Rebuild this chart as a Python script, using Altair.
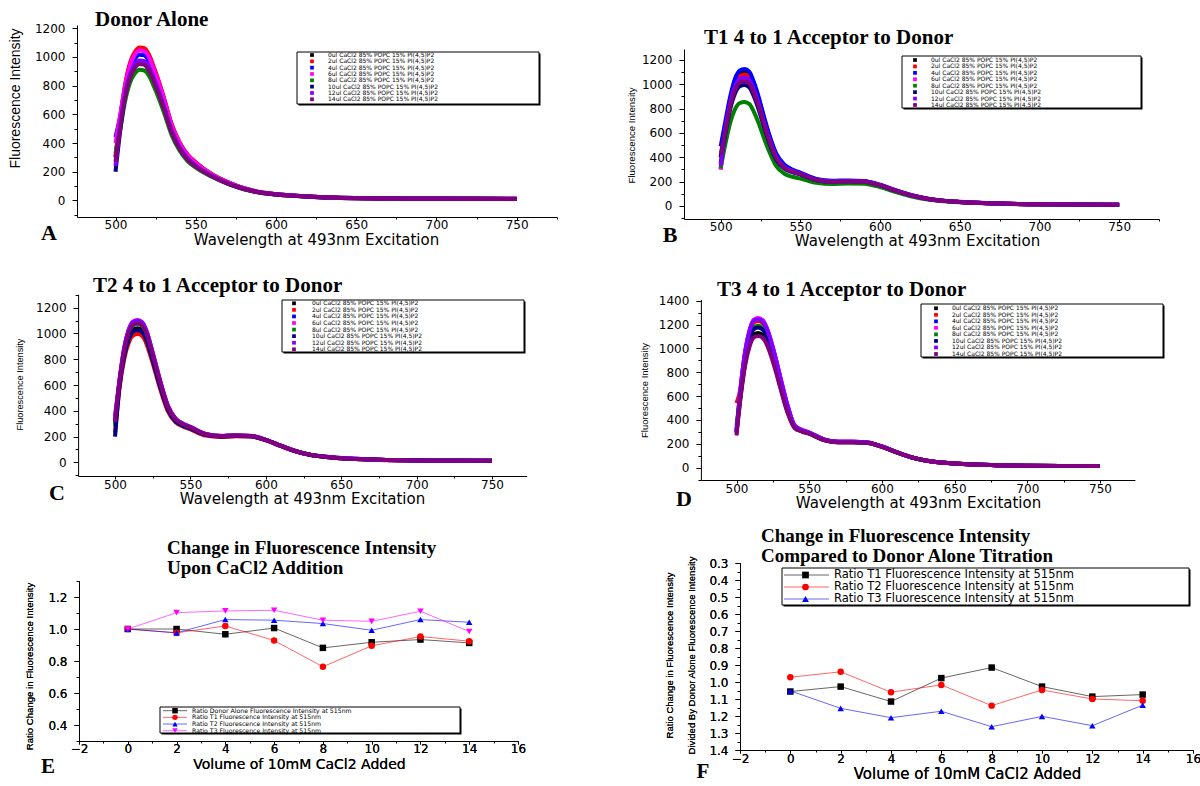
import altair as alt
import pandas as pd

W, H = 1200, 786
SANS = "DejaVu Sans"
NARROW = "Liberation Sans"
SERIF = "Liberation Serif"

# ---------------- data ----------------
WAVELENGTH = [500, 503, 506, 509, 512, 515, 518, 521, 524, 527, 530, 535, 540, 545,
              550, 560, 570, 580, 590, 600, 610, 620, 630, 640, 650, 675, 700, 750]

CACL2_LABELS = [
    "0ul CaCl2 85% POPC 15% PI(4,5)P2",
    "2ul CaCl2 85% POPC 15% PI(4,5)P2",
    "4ul CaCl2 85% POPC 15% PI(4,5)P2",
    "6ul CaCl2 85% POPC 15% PI(4,5)P2",
    "8ul CaCl2 85% POPC 15% PI(4,5)P2",
    "10ul CaCl2 85% POPC 15% PI(4,5)P2",
    "12ul CaCl2 85% POPC 15% PI(4,5)P2",
    "14ul CaCl2 85% POPC 15% PI(4,5)P2",
]
CACL2_COLORS = ["#000000", "#FF0000", "#0000FF", "#FF00FF",
                "#008000", "#000080", "#8000FF", "#800080"]

# Panel A: donor alone
DONOR_0 = [300, 578, 798, 945, 1019, 1050, 1045, 998, 914, 819, 714, 525, 399, 315, 263, 182, 126, 85, 58, 44, 35, 28, 22, 19, 17, 14, 13, 12]
DONOR_2 = [310, 586, 809, 959, 1033, 1065, 1060, 1012, 927, 831, 724, 533, 405, 320, 266, 184, 128, 86, 59, 45, 35, 28, 22, 19, 17, 14, 13, 12]
DONOR_4 = [440, 590, 771, 914, 985, 1015, 1010, 964, 883, 792, 690, 508, 386, 305, 254, 178, 123, 83, 57, 43, 34, 27, 22, 19, 17, 14, 13, 12]
DONOR_6 = [400, 600, 794, 941, 1014, 1045, 1040, 993, 909, 815, 711, 523, 397, 314, 261, 182, 126, 85, 58, 44, 35, 28, 22, 19, 17, 14, 13, 12]
DONOR_8 = [330, 500, 692, 819, 883, 910, 905, 865, 792, 710, 619, 455, 346, 273, 228, 165, 115, 78, 54, 41, 33, 26, 21, 18, 16, 13, 12, 11]
DONOR_10 = [200, 490, 730, 864, 931, 960, 955, 912, 835, 749, 653, 480, 365, 288, 240, 170, 118, 80, 55, 42, 33, 27, 21, 18, 16, 13, 12, 11]
DONOR_12 = [240, 530, 741, 878, 946, 975, 970, 926, 848, 761, 663, 488, 371, 293, 244, 172, 120, 81, 56, 43, 34, 27, 21, 18, 16, 13, 12, 11]
DONOR_14 = [270, 520, 722, 855, 922, 950, 945, 903, 827, 741, 646, 475, 361, 285, 238, 169, 117, 80, 55, 42, 33, 27, 21, 18, 16, 13, 12, 11]

# Panel B: T1
T1_0 = [400, 660, 880, 1023, 1089, 1100, 1078, 990, 869, 726, 594, 418, 330, 292, 268, 218, 203, 206, 202, 172, 127, 86, 59, 43, 33, 20, 14, 10]
T1_2 = [300, 648, 864, 1004, 1069, 1080, 1058, 972, 853, 713, 583, 410, 326, 290, 266, 216, 201, 205, 201, 171, 126, 86, 58, 42, 33, 20, 14, 10]
T1_4 = [490, 700, 900, 1046, 1114, 1125, 1103, 1013, 889, 743, 608, 428, 340, 300, 274, 222, 207, 210, 206, 175, 129, 88, 60, 43, 34, 20, 14, 10]
T1_6 = [300, 618, 824, 958, 1020, 1030, 1009, 927, 814, 680, 556, 391, 315, 283, 262, 214, 200, 204, 200, 170, 125, 85, 58, 42, 33, 20, 14, 10]
T1_8 = [310, 513, 684, 795, 846, 855, 838, 770, 675, 564, 462, 325, 265, 240, 225, 190, 180, 185, 183, 155, 115, 78, 53, 39, 30, 18, 13, 9]
T1_10 = [350, 597, 796, 925, 985, 995, 975, 896, 786, 657, 537, 378, 307, 278, 258, 212, 199, 203, 199, 169, 124, 85, 58, 42, 33, 20, 14, 10]
T1_12 = [330, 633, 844, 981, 1044, 1055, 1034, 950, 833, 696, 570, 401, 320, 288, 265, 216, 202, 206, 202, 172, 126, 86, 58, 42, 33, 20, 14, 10]
T1_14 = [420, 615, 820, 953, 1015, 1025, 1005, 923, 810, 677, 554, 390, 313, 283, 262, 214, 200, 204, 200, 170, 125, 85, 58, 42, 33, 20, 14, 10]

# Panel C: T2
T2_0 = [300, 603, 832, 967, 1030, 1040, 1024, 957, 842, 718, 593, 416, 325, 288, 265, 215, 202, 206, 203, 173, 127, 85, 57, 42, 32, 20, 15, 12]
T2_2 = [230, 577, 796, 925, 985, 995, 980, 915, 806, 687, 567, 398, 312, 278, 256, 208, 197, 202, 200, 170, 125, 84, 56, 41, 31, 19, 14, 11]
T2_4 = [330, 638, 880, 1023, 1089, 1100, 1084, 1012, 891, 759, 627, 440, 340, 300, 274, 220, 205, 209, 205, 175, 129, 86, 58, 43, 33, 20, 15, 12]
T2_6 = [340, 641, 884, 1028, 1094, 1105, 1088, 1017, 895, 762, 630, 442, 342, 301, 275, 221, 206, 209, 206, 175, 129, 86, 58, 43, 33, 20, 15, 12]
T2_8 = [280, 624, 860, 1000, 1064, 1075, 1059, 989, 871, 742, 613, 430, 335, 295, 270, 218, 204, 208, 204, 174, 128, 86, 57, 42, 32, 20, 15, 12]
T2_10 = [200, 595, 820, 953, 1015, 1025, 1010, 943, 830, 707, 584, 410, 320, 284, 262, 213, 200, 205, 202, 172, 127, 85, 57, 42, 32, 20, 15, 12]
T2_12 = [360, 638, 880, 1023, 1089, 1100, 1084, 1012, 891, 759, 627, 440, 340, 300, 274, 220, 205, 209, 205, 175, 129, 86, 58, 43, 33, 20, 15, 12]
T2_14 = [310, 626, 864, 1004, 1069, 1080, 1064, 994, 875, 745, 616, 432, 336, 296, 271, 219, 204, 208, 204, 174, 128, 86, 58, 42, 32, 20, 15, 12]

# Panel D: T3
T3_0 = [320, 622, 881, 1040, 1119, 1130, 1113, 1051, 949, 825, 689, 475, 335, 305, 285, 232, 213, 213, 208, 175, 129, 88, 60, 44, 36, 22, 17, 14]
T3_2 = [540, 677, 959, 1132, 1218, 1230, 1212, 1144, 1033, 898, 750, 517, 350, 315, 293, 237, 217, 217, 212, 178, 131, 89, 61, 45, 36, 22, 17, 14]
T3_4 = [300, 688, 975, 1150, 1238, 1250, 1231, 1163, 1050, 913, 763, 525, 352, 316, 294, 238, 218, 218, 212, 178, 131, 89, 61, 45, 36, 22, 17, 14]
T3_6 = [310, 690, 979, 1155, 1242, 1255, 1236, 1167, 1054, 916, 766, 527, 353, 317, 295, 238, 218, 218, 212, 178, 131, 89, 61, 45, 36, 22, 17, 14]
T3_8 = [350, 655, 928, 1095, 1178, 1190, 1172, 1107, 1000, 869, 726, 500, 343, 310, 290, 235, 215, 215, 210, 176, 130, 88, 60, 44, 36, 22, 17, 14]
T3_10 = [290, 646, 917, 1081, 1163, 1175, 1157, 1093, 987, 858, 717, 494, 341, 308, 289, 234, 215, 215, 210, 176, 130, 88, 60, 44, 36, 22, 17, 14]
T3_12 = [300, 685, 971, 1145, 1233, 1245, 1226, 1158, 1046, 909, 759, 523, 352, 316, 294, 238, 218, 218, 212, 178, 131, 89, 61, 45, 36, 22, 17, 14]
T3_14 = [270, 608, 862, 1017, 1094, 1105, 1088, 1028, 928, 807, 674, 464, 333, 303, 284, 231, 212, 212, 207, 175, 129, 88, 60, 44, 36, 22, 17, 14]

# Panel E: ratio change upon CaCl2 addition
VOLUME = [0, 2, 4, 6, 8, 10, 12, 14]
E_LABELS = [
    "Ratio Donor Alone Fluorescence Intensity at 515nm",
    "Ratio  T1 Fluorescence Intensity at 515nm",
    "Ratio  T2 Fluorescence Intensity at 515nm",
    "Ratio  T3 Fluorescence Intensity at 515nm",
]
E_COLORS = ["#000000", "#FF0000", "#0000FF", "#FF00FF"]
E_SHAPES = ["square", "circle", "triangle-up", "triangle-down"]
E_DONOR = [1.000, 1.000, 0.967, 1.006, 0.882, 0.917, 0.934, 0.913]
E_T1 = [1.000, 0.976, 1.019, 0.928, 0.764, 0.895, 0.953, 0.924]
E_T2 = [1.000, 0.976, 1.059, 1.055, 1.034, 0.992, 1.059, 1.042]
E_T3 = [1.000, 1.102, 1.113, 1.117, 1.055, 1.048, 1.111, 0.984]

# Panel F: compared to donor alone
F_LABELS = [
    "Ratio T1 Fluorescence Intensity at 515nm",
    "Ratio T2 Fluorescence Intensity at 515nm",
    "Ratio T3 Fluorescence Intensity at 515nm",
]
F_COLORS = ["#000000", "#FF0000", "#0000FF"]
F_SHAPES = ["square", "circle", "triangle-up"]
F_T1 = [1.056, 1.027, 1.115, 0.977, 0.915, 1.027, 1.086, 1.074]
F_T2 = [0.972, 0.940, 1.060, 1.017, 1.139, 1.047, 1.100, 1.110]
F_T3 = [1.052, 1.155, 1.210, 1.172, 1.263, 1.202, 1.257, 1.136]

WL_TICKS = [500, 550, 600, 650, 700, 750]
WL_MINOR = [525, 575, 625, 675, 725, 775]
INT_TICKS = [0, 200, 400, 600, 800, 1000, 1200]
INT_MINOR = [-100, 100, 300, 500, 700, 900, 1100]
INT_TICKS_D = [0, 200, 400, 600, 800, 1000, 1200, 1400]
INT_MINOR_D = [-100, 100, 300, 500, 700, 900, 1100, 1300]
VOL_TICKS = [-2, 0, 2, 4, 6, 8, 10, 12, 14, 16]
VOL_MINOR = [-1, 1, 3, 5, 7, 9, 11, 13, 15]
E_TICKS = [0.4, 0.6, 0.8, 1.0, 1.2]
E_MINOR = [0.3, 0.5, 0.7, 0.9, 1.1, 1.3]
F_TICKS = [0.3, 0.4, 0.5, 0.6, 0.7, 0.8, 0.9, 1.0, 1.1, 1.2, 1.3, 1.4]
F_MINOR = [0.35, 0.45, 0.55, 0.65, 0.75, 0.85, 0.95, 1.05, 1.15, 1.25, 1.35]

WL_TITLE = "Wavelength at 493nm Excitation"
INT_TITLE = "Fluorescence Intensity"
VOL_TITLE = "Volume of 10mM CaCl2 Added"
E_YTITLE = "Ratio Change in Fluorescence Intensity"
F_YTITLE = ["Ratio Change in Fluorescence Intensity",
            "Divided By Donor Alone Fluorescence Intensity"]


# ---------------- helpers ----------------
def long_frame(xs, series, labels, xname, yname):
    rows = []
    for label, values in zip(labels, series):
        assert len(values) == len(xs)
        for xv, yv in zip(xs, values):
            rows.append({xname: xv, yname: yv, "series": label})
    return pd.DataFrame(rows)


AXIS_COMMON = dict(labelFont=SANS, labelFontSize=12, labelColor="black",
                   tickColor="black", domainColor="black", grid=False,
                   labelFlush=False, labelOverlap=False, titleColor="black",
                   titleFontWeight="normal")


def x_axis(bottom, values, title, title_x, title_y, title_size=15, label_pad=5):
    return alt.Axis(**dict(AXIS_COMMON, orient="bottom", offset=bottom - H, values=values,
                           title=title, titleX=title_x, titleY=title_y - bottom,
                           titleFont=SANS, titleFontSize=title_size,
                           titleBaseline="middle", titleAlign="center",
                           labelBaseline="middle", labelPadding=label_pad, tickSize=3))


def x_minor(bottom, values):
    return alt.Axis(orient="bottom", offset=bottom - H, values=values, title=None,
                    labels=False, domain=False, tickSize=2, tickColor="black", grid=False)


def y_axis(left, values, title, title_x, title_y, title_size, fmt, line_height=None):
    kw = dict(AXIS_COMMON, orient="left", offset=-left, values=values, title=title,
              titleX=title_x - left, titleY=title_y, titleAngle=270,
              titleFont=NARROW, titleFontSize=title_size,
              titleBaseline="middle", titleAlign="center",
              labelPadding=7, tickSize=5, format=fmt)
    if line_height:
        kw["titleLineHeight"] = line_height
    return alt.Axis(**kw)


def y_minor(left, values):
    return alt.Axis(orient="left", offset=-left, values=values, title=None,
                    labels=False, domain=False, tickSize=3, tickColor="black", grid=False)


def spectra_panel(series, xdom, xrng, ydom, yrng, yticks, yminor, xt, yt, yt_size, label_pad=5):
    df = long_frame(WAVELENGTH, series, CACL2_LABELS, "wl", "intensity")
    xs = alt.Scale(domain=xdom, range=xrng, nice=False, zero=False)
    ys = alt.Scale(domain=ydom, range=yrng, nice=False, zero=False)
    lines = alt.Chart(df).mark_line(strokeWidth=4, interpolate="monotone").encode(
        x=alt.X("wl:Q", scale=xs,
                axis=x_axis(yrng[0], WL_TICKS, WL_TITLE, xt[0], xt[1], label_pad=label_pad)),
        y=alt.Y("intensity:Q", scale=ys,
                axis=y_axis(xrng[0], yticks, INT_TITLE, yt[0], yt[1], yt_size, "d")),
        color=alt.Color("series:N", scale=alt.Scale(domain=CACL2_LABELS, range=CACL2_COLORS),
                        legend=None),
    )
    minor = alt.Chart(df).mark_point(opacity=0).encode(
        x=alt.X("wl:Q", scale=xs, axis=x_minor(yrng[0], WL_MINOR)),
        y=alt.Y("intensity:Q", scale=ys, axis=y_minor(xrng[0], yminor)),
    )
    return alt.layer(lines, minor).resolve_axis(x="independent", y="independent")


def legend_frame(box):
    x0, x1, y0, y1 = box
    one = pd.DataFrame({"box": [0]})
    shadow = alt.Chart(one).mark_rect(color="black").encode(
        x=alt.value(x0 + 1.5), x2=alt.value(x1 + 1.5),
        y=alt.value(y0 + 1.5), y2=alt.value(y1 + 1.5))
    face = alt.Chart(one).mark_rect(fill="white", stroke="black", strokeWidth=1).encode(
        x=alt.value(x0), x2=alt.value(x1), y=alt.value(y0), y2=alt.value(y1))
    return [shadow, face]


def cacl2_legend(box, rows, sym_x, text_x):
    df = pd.DataFrame({"series": CACL2_LABELS})
    y = alt.Y("series:N", scale=alt.Scale(type="point", domain=CACL2_LABELS,
                                          range=list(rows), padding=0), axis=None)
    color = alt.Color("series:N", scale=alt.Scale(domain=CACL2_LABELS, range=CACL2_COLORS),
                      legend=None)
    symbols = alt.Chart(df).mark_square(size=14, opacity=1).encode(
        x=alt.value(sym_x), y=y, color=color)
    texts = alt.Chart(df).mark_text(align="left", baseline="middle", font=SANS,
                                    fontSize=6.0, color="black").encode(
        x=alt.value(text_x), y=y, text="series:N")
    return alt.layer(*legend_frame(box), symbols, texts)


def ratio_panel(series, labels, colors, shapes, xrng, ydom, yrng, yticks, yminor,
                xt, yt, yt_size, line_height=None, xt_size=15, label_pad=5):
    df = long_frame(VOLUME, series, labels, "volume", "ratio")
    bottom = max(yrng)
    xs = alt.Scale(domain=[-2, 16], range=xrng, nice=False, zero=False)
    ys = alt.Scale(domain=ydom, range=yrng, nice=False, zero=False)
    base = alt.Chart(df).encode(
        x=alt.X("volume:Q", scale=xs,
                axis=x_axis(bottom, VOL_TICKS, VOL_TITLE, xt[0], xt[1], xt_size, label_pad)),
        y=alt.Y("ratio:Q", scale=ys,
                axis=y_axis(xrng[0], yticks, yt[0], yt[1], yt[2], yt_size, ".1f",
                            line_height=line_height)),
        color=alt.Color("series:N", scale=alt.Scale(domain=labels, range=colors), legend=None),
    )
    lines = base.mark_line(strokeWidth=1, opacity=0.6)
    points = base.mark_point(filled=True, size=42, opacity=1).encode(
        shape=alt.Shape("series:N", scale=alt.Scale(domain=labels, range=shapes), legend=None))
    minor = alt.Chart(df).mark_point(opacity=0).encode(
        x=alt.X("volume:Q", scale=xs, axis=x_minor(bottom, VOL_MINOR)),
        y=alt.Y("ratio:Q", scale=ys, axis=y_minor(xrng[0], yminor)),
    )
    return alt.layer(lines, points, minor).resolve_axis(x="independent", y="independent")


def ratio_legend(labels, colors, shapes, box, rows, line_x, mark_x, text_x, font_size, msize):
    df = pd.DataFrame({"series": labels})
    y = alt.Y("series:N", scale=alt.Scale(type="point", domain=labels, range=list(rows),
                                          padding=0), axis=None)
    color = alt.Color("series:N", scale=alt.Scale(domain=labels, range=colors), legend=None)
    shape = alt.Shape("series:N", scale=alt.Scale(domain=labels, range=shapes), legend=None)
    rules = alt.Chart(df).mark_rule(strokeWidth=1, opacity=0.6).encode(
        x=alt.value(line_x[0]), x2=alt.value(line_x[1]), y=y, color=color)
    marks = alt.Chart(df).mark_point(filled=True, size=msize, opacity=1).encode(
        x=alt.value(mark_x), y=y, color=color, shape=shape)
    texts = alt.Chart(df).mark_text(align="left", baseline="middle", font=SANS,
                                    fontSize=font_size, color="black").encode(
        x=alt.value(text_x), y=y, text="series:N")
    return alt.layer(*legend_frame(box), rules, marks, texts)


def label_text(text, x, y, size, font=SERIF, weight="bold", align="left"):
    return alt.Chart(pd.DataFrame({"t": [text]})).mark_text(
        align=align, baseline="middle", font=font, fontSize=size,
        fontWeight=weight, color="black").encode(
        x=alt.value(x), y=alt.value(y), text="t:N")


# ---------------- panels ----------------
panel_a = spectra_panel([DONOR_0, DONOR_2, DONOR_4, DONOR_6, DONOR_8, DONOR_10, DONOR_12, DONOR_14],
                        [476, 775], [77, 556.8], [-115, 1222], [217, 25], INT_TICKS, INT_MINOR,
                        (316, 239.5), (15, 98), 14, label_pad=4)
panel_b = spectra_panel([T1_0, T1_2, T1_4, T1_6, T1_8, T1_10, T1_12, T1_14],
                        [477, 775], [684, 1159], [-107, 1290], [219, 49], INT_TICKS, INT_MINOR,
                        (917, 240.5), (631, 135), 9.6, label_pad=4)
panel_c = spectra_panel([T2_0, T2_2, T2_4, T2_6, T2_8, T2_10, T2_12, T2_14],
                        [475.5, 773], [78.1, 526.7], [-106, 1304], [476, 294.3], INT_TICKS,
                        INT_MINOR + [1300], (302, 498), (19, 384), 9.2)
panel_d = spectra_panel([T3_0, T3_2, T3_4, T3_6, T3_8, T3_10, T3_12, T3_14],
                        [475.5, 774], [700.9, 1134.9], [-103, 1410], [480, 299.5], INT_TICKS_D,
                        INT_MINOR_D, (918, 502), (644, 390), 9.5)

legend_a = cacl2_legend((297, 539, 52, 104), (55, 99.3), 312, 328)
legend_b = cacl2_legend((902, 1141, 56, 108), (60, 105), 915, 931)
legend_c = cacl2_legend((282, 524, 300, 352), (303.3, 349.3), 294, 312)
legend_d = cacl2_legend((921, 1163, 304, 357), (308.3, 354), 936, 952)

panel_e = ratio_panel([E_DONOR, E_T1, E_T2, E_T3], E_LABELS, E_COLORS, E_SHAPES,
                      [79, 518], [0.3, 1.3], [741, 581], E_TICKS, E_MINOR,
                      (299, 764), (E_YTITLE, 29, 666), 9.6, xt_size=14, label_pad=4)
panel_f = ratio_panel([F_T1, F_T2, F_T3], F_LABELS, F_COLORS, F_SHAPES,
                      [740, 1193], [0.3, 1.4], [563, 750], F_TICKS, F_MINOR,
                      (967, 773), (F_YTITLE, 669, 655), 9.5, line_height=22)

legend_e = ratio_legend(E_LABELS, E_COLORS, E_SHAPES, (160, 460, 707, 733),
                        (710.7, 730.7), (163, 187), 175, 192, 6.2, 30)
legend_f = ratio_legend(F_LABELS, F_COLORS, F_SHAPES, (782, 1189, 568, 605),
                        (575, 599), (784, 829), 805.5, 834, 11.5, 45)

texts = [
    label_text("Donor Alone", 95, 20, 21),
    label_text("T1 4 to 1 Acceptor to Donor", 704, 38, 21),
    label_text("T2 4 to 1 Acceptor to Donor", 93, 286, 21),
    label_text("T3 4 to 1 Acceptor to Donor", 717, 290, 21),
    label_text("Change in Fluorescence Intensity", 167, 547.5, 19),
    label_text("Upon CaCl2 Addition", 167, 567.5, 19),
    label_text("Change in Fluorescence Intensity", 761, 535.5, 19),
    label_text("Compared to Donor Alone Titration", 761, 555.5, 19),
    label_text("A", 49, 233, 22, align="center"),
    label_text("B", 670, 235, 22, align="center"),
    label_text("C", 57, 493, 22, align="center"),
    label_text("D", 684, 499, 22, align="center"),
    label_text("E", 48, 767, 21, align="center"),
    label_text("F", 703, 772, 21, align="center"),
]

chart = alt.layer(
    panel_a, legend_a, panel_b, legend_b, panel_c, legend_c, panel_d, legend_d,
    panel_e, legend_e, panel_f, legend_f, *texts
).resolve_scale(
    x="independent", y="independent", color="independent", shape="independent"
).resolve_axis(
    x="independent", y="independent"
).properties(
    width=W, height=H, padding=0, autosize="none", background="white"
).configure_view(stroke=None)

chart.save("out.html", embed_options={"renderer": "svg", "actions": False})
